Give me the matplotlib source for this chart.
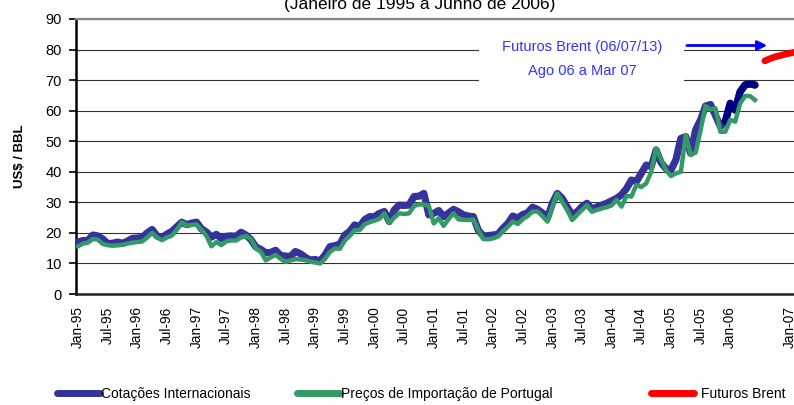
import matplotlib
matplotlib.use("Agg")
import matplotlib.pyplot as plt
from matplotlib.patches import Rectangle
import numpy as np
import pandas as pd

plt.rcParams['font.family'] = ['Liberation Sans', 'DejaVu Sans']

# monthly series, Jan-95 .. Jun-06 (US$ / BBL)
cotacoes = [
    17.0, 17.5, 17.5, 19.3, 19.0, 18.0, 16.5, 16.6, 17.0, 16.6, 17.3, 18.2,   # 1995
    18.3, 18.5, 20.0, 21.1, 19.0, 18.5, 19.6, 20.5, 22.0, 23.5, 22.7, 23.2,   # 1996
    23.5, 21.3, 20.3, 18.6, 19.5, 18.2, 18.9, 19.0, 18.9, 20.2, 19.3, 17.8,   # 1997
    15.4, 14.6, 13.5, 13.6, 14.3, 12.6, 12.4, 12.3, 13.9, 13.2, 12.0, 11.1,   # 1998
    11.3, 10.8, 12.8, 15.5, 15.8, 16.3, 19.3, 20.5, 22.6, 22.0, 24.3, 25.3,   # 1999
    25.3, 26.4, 27.0, 23.7, 27.5, 29.1, 29.0, 29.1, 31.9, 32.0, 32.9, 25.9,   # 2000
    26.4, 27.3, 25.3, 26.5, 27.7, 26.9, 25.9, 25.5, 25.3, 20.9, 19.0, 19.1,   # 2001
    19.3, 19.6, 21.5, 23.1, 25.5, 24.8, 26.0, 26.6, 28.4, 27.7, 26.5, 24.8,   # 2002
    29.7, 32.9, 31.3, 28.5, 25.9, 26.9, 28.6, 29.7, 27.8, 28.5, 29.1, 29.7,   # 2003
    30.5, 31.3, 32.5, 34.5, 37.3, 36.8, 39.5, 42.2, 41.7, 47.1, 43.0, 41.0,   # 2004
    40.6, 43.9, 50.9, 51.5, 46.0, 53.7, 57.0, 61.5, 62.0, 58.5, 54.8, 56.5,   # 2005
    62.4, 60.2, 66.2, 68.4, 68.8, 68.4,                                       # 2006
]
importacao_pt = [
    15.6, 16.5, 16.8, 18.0, 17.8, 16.4, 16.0, 15.8, 15.9, 16.1, 16.5, 16.8,
    17.0, 17.2, 18.5, 20.0, 18.5, 17.6, 18.5, 19.1, 21.0, 23.5, 22.4, 22.6,
    22.7, 21.0, 19.0, 15.6, 17.0, 16.0, 17.2, 17.5, 17.5, 18.5, 19.0, 18.0,
    15.0, 13.8, 11.0, 12.0, 12.8, 11.5, 10.5, 11.0, 11.4, 11.3, 11.1, 10.6,
    10.3, 10.0, 11.5, 13.8, 14.9, 14.8, 17.5, 19.0, 20.9, 20.9, 22.8, 23.5,
    24.0, 24.6, 26.4, 23.3, 25.0, 26.4, 26.2, 26.4, 28.8, 29.3, 29.3, 28.8,
    23.1, 24.8, 22.3, 24.5, 26.4, 24.4, 24.3, 24.2, 24.4, 21.0, 18.0, 17.9,
    18.2, 18.8, 20.5, 22.0, 23.7, 22.9, 24.5, 25.5, 27.0, 27.0, 25.5, 23.7,
    28.6, 32.9, 30.2, 27.5, 24.2, 25.9, 27.5, 29.1, 26.9, 27.5, 28.0, 28.4,
    29.0, 30.8, 28.6, 32.1, 31.9, 35.7, 35.0, 36.2, 40.0, 47.7, 44.0, 40.5,
    38.6, 39.5, 40.0, 52.0, 45.5, 46.3, 53.7, 61.5, 60.4, 60.8, 53.1, 53.1,
    57.0, 56.4, 62.4, 64.8, 64.8, 63.5,
]
# Brent futures quoted 06/07/13, Aug-06 .. Mar-07
futuros_brent = [76.3, 77.0, 77.6, 78.0, 78.4, 78.8, 79.1, 79.3]

meses = pd.period_range('1995-01', periods=len(cotacoes), freq='M')
meses_fut = pd.period_range('2006-08', periods=len(futuros_brent), freq='M')

tick_labels = ['Jan-95', 'Jul-95', 'Jan-96', 'Jul-96', 'Jan-97', 'Jul-97', 'Jan-98',
               'Jul-98', 'Jan-99', 'Jul-99', 'Jan-00', 'Jul-00', 'Jan-01', 'Jul-01',
               'Jan-02', 'Jul-02', 'Jan-03', 'Jul-03', 'Jan-04', 'Jul-04', 'Jan-05',
               'Jul-05', 'Jan-06', 'Jan-07']


def month_index(periods):
    return np.array([(p.year - 1995) * 12 + p.month - 1 for p in periods])


x = month_index(meses)
x_fut = month_index(meses_fut)
tick_pos = month_index([pd.Period(pd.to_datetime(t, format='%b-%y'), freq='M') for t in tick_labels])

BLUE = '#333399'
NAVY = '#000080'
GREEN = '#339966'
RED = '#ff0000'

fig = plt.figure(figsize=(7.94, 4.05), dpi=100)
ax = fig.add_axes([76 / 794, 111 / 405, 718 / 794, 275 / 405])

ax.plot(x, cotacoes, color=BLUE, lw=5.2, solid_capstyle='round', zorder=3)
last = x >= 131
ax.plot(x[last], np.array(cotacoes)[last], color=NAVY, lw=5.2, solid_capstyle='round', zorder=3.5)
ax.plot(x, importacao_pt, color=GREEN, lw=3.2, zorder=4)
ax.plot(x_fut, futuros_brent, color=RED, lw=4.8, solid_capstyle='round', zorder=4)

ax.set_xlim(-0.4, 144.9)
ax.set_ylim(0, 90)
ax.set_yticks(range(0, 91, 10))
ax.set_xticks(tick_pos)
ax.set_xticklabels(tick_labels, rotation=90, fontsize=9.8)
ax.tick_params(axis='x', length=0, pad=9)
ax.tick_params(axis='y', length=5, width=1.2, labelsize=10.5, pad=5, direction='out')

ax.set_axisbelow(True)
ax.yaxis.grid(True, color='#333333', lw=0.8)
ax.spines['right'].set_visible(False)
ax.spines['top'].set_color('#888888')
ax.spines['top'].set_linewidth(1.6)
ax.spines['left'].set_linewidth(1.8)
ax.spines['bottom'].set_linewidth(1.8)
ax.spines['bottom'].set_color('#222222')

ax.set_ylabel('US$ / BBL', fontsize=9.5, fontweight='bold', labelpad=14)

# white label box over the gridlines
ax.add_patch(Rectangle((479 / 794, 1 - 95 / 405), 205 / 794, 67 / 405, transform=fig.transFigure,
                       facecolor='white', edgecolor='none', zorder=1))
fig.text(582 / 794, 1 - 47 / 405, 'Futuros Brent (06/07/13)', color='#3333ff', fontsize=10.5,
         ha='center', va='center')
fig.text(582 / 794, 1 - 71 / 405, 'Ago 06 a Mar 07', color='#3333ff', fontsize=10.5,
         ha='center', va='center')
ax.annotate('', xy=(770 / 794, 1 - 45.5 / 405), xytext=(684 / 794, 1 - 45.5 / 405),
            xycoords='figure fraction', textcoords='figure fraction',
            arrowprops=dict(arrowstyle='-|>', color='#0000ff', lw=2, mutation_scale=14))

fig.text(420 / 794, 1 - 9 / 405, '(Janeiro de 1995 a Junho de 2006)', fontsize=12.5,
         ha='center', va='baseline')

# legend (three separate entries, spaced like the original)
legend_items = [('Cotações Internacionais', BLUE, 57, 0.1),
                ('Preços de Importação de Portugal', GREEN, 297, 0.1),
                ('Futuros Brent', RED, 651, 0.5)]
for label, col, px, gap in legend_items:
    h = plt.Line2D([], [], color=col, lw=5, solid_capstyle='round')
    fig.legend([h], [label], loc='center left', bbox_to_anchor=(px / 794, 11 / 405),
               frameon=False, borderpad=0, borderaxespad=0, handlelength=3.1,
               handletextpad=gap, fontsize=10)

fig.savefig('out.png', dpi=100)
